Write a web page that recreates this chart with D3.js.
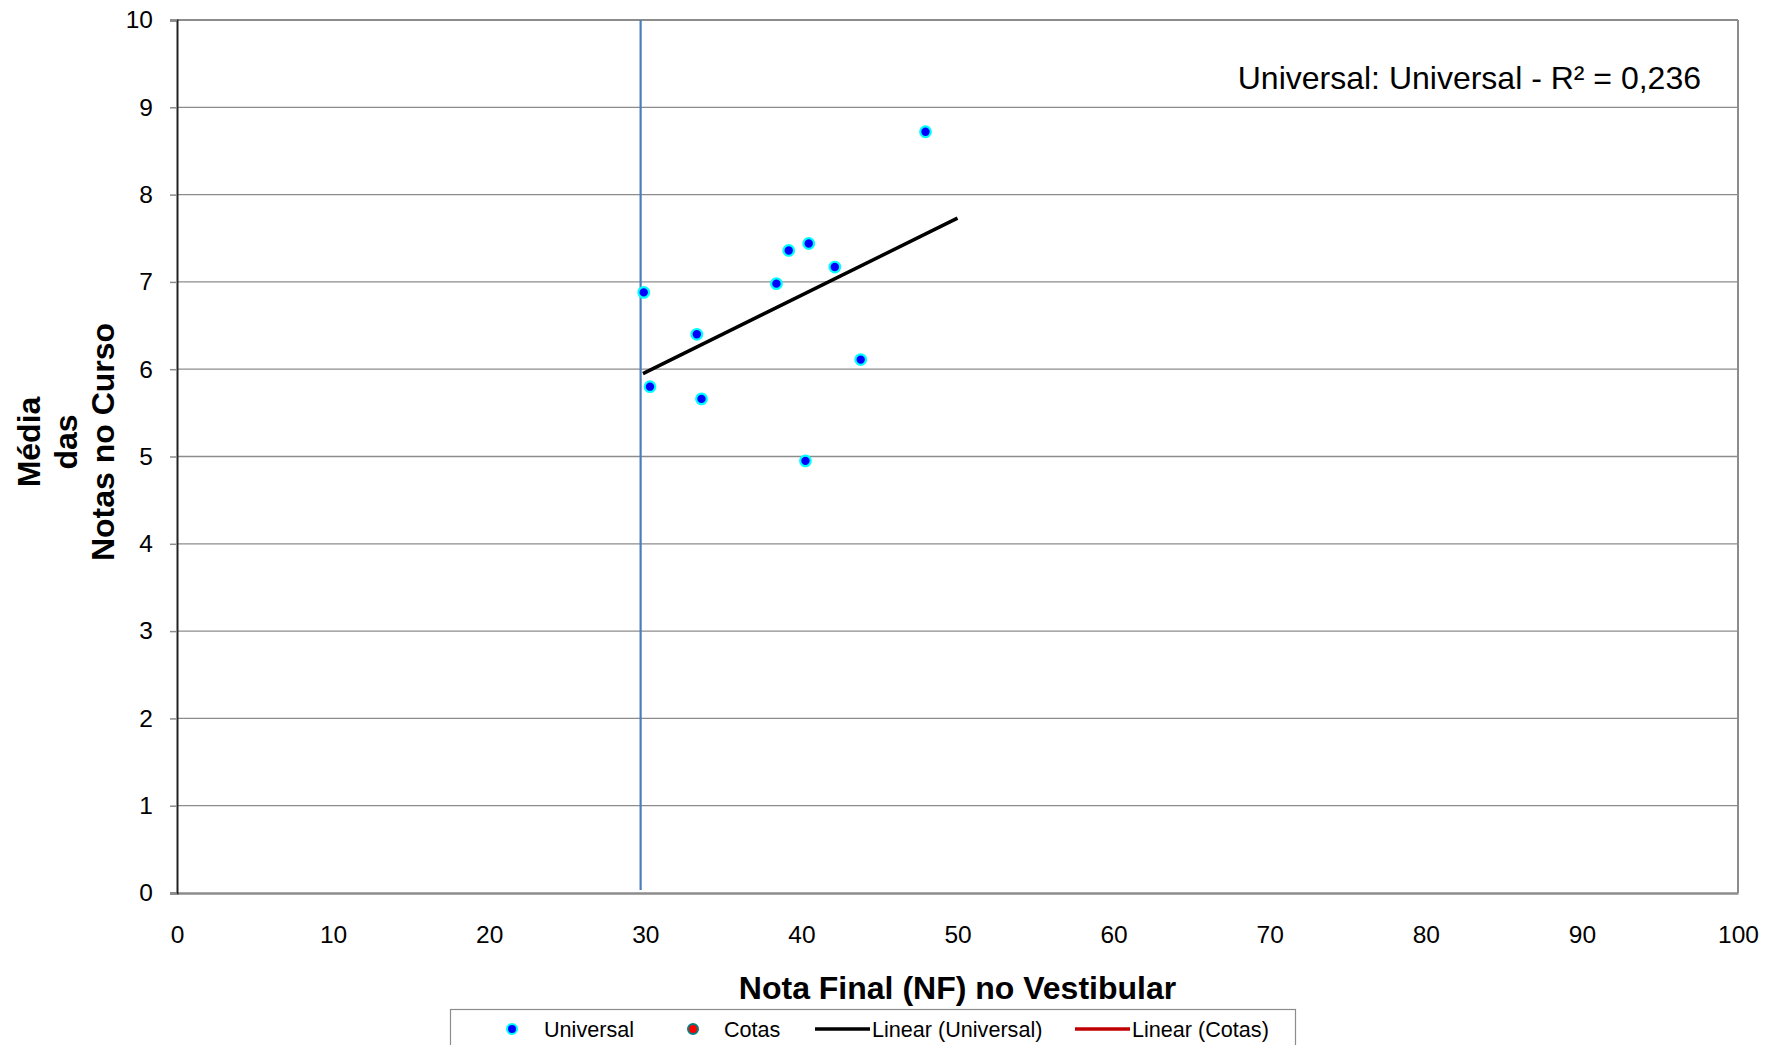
<!DOCTYPE html>
<html>
<head>
<meta charset="utf-8">
<script src="https://cdn.jsdelivr.net/npm/d3@7"></script>
<style>
  html, body { margin: 0; padding: 0; background: #fff; }
  svg { display: block; font-family: "Liberation Sans", Arial, sans-serif; }
</style>
</head>
<body>
<svg id="chart" width="1765" height="1045"></svg>
<script>
// ---- data ----
const universalX = [47.95, 39.19, 40.47, 42.14, 38.4, 29.9, 33.3, 43.8, 30.3, 33.6, 40.26];
const universalY = [8.72, 7.36, 7.44, 7.17, 6.98, 6.88, 6.40, 6.11, 5.80, 5.66, 4.95];
const cotasX = [];
const cotasY = [];
const trendUniversal = [[29.85, 5.95], [50.0, 7.73]];
const cutoffX = 29.7;
const xTicks = [0, 10, 20, 30, 40, 50, 60, 70, 80, 90, 100];
const yTicks = [0, 1, 2, 3, 4, 5, 6, 7, 8, 9, 10];
const legendItems = ["Universal", "Cotas", "Linear (Universal)", "Linear (Cotas)"];
const annotationText = "Universal: Universal - R² = 0,236";
const xTitle = "Nota Final (NF) no Vestibular";
const yTitleLines = ["Média", "das", "Notas no Curso"];

// ---- layout ----
const FONT = "'Liberation Sans', Arial, sans-serif";
const svg = d3.select("#chart");
const L = 177, R = 1738, T = 20, B = 893;
const x = d3.scaleLinear().domain([0, 100]).range([L, R]);
const y = d3.scaleLinear().domain([0, 10]).range([B, T]);

// gridlines
svg.append("g").selectAll("line").data(yTicks.filter(d => d > 0)).join("line")
  .attr("x1", L).attr("x2", R)
  .attr("y1", d => y(d)).attr("y2", d => y(d))
  .attr("stroke", "#8c8c8c").attr("stroke-width", 1.3);

// plot border (top/right)
svg.append("line").attr("x1", L).attr("x2", R).attr("y1", T).attr("y2", T)
  .attr("stroke", "#8c8c8c").attr("stroke-width", 2);
svg.append("line").attr("x1", R).attr("x2", R).attr("y1", T).attr("y2", B)
  .attr("stroke", "#8c8c8c").attr("stroke-width", 2);

// x axis (bottom)
const xAxis = d3.axisBottom(x).tickValues(xTicks).tickSize(0).tickPadding(33)
  .tickFormat(d3.format("d"));
const gx = svg.append("g").attr("transform", `translate(0,${B})`).call(xAxis);
gx.select(".domain").attr("stroke", "#8c8c8c").attr("stroke-width", 2.5);
gx.selectAll("text").attr("font-size", 24.5).attr("fill", "#000").attr("font-family", FONT);

// y axis (left)
const yAxis = d3.axisLeft(y).tickValues(yTicks).tickSize(7).tickPadding(17)
  .tickFormat(d3.format("d"));
const gy = svg.append("g").attr("transform", `translate(${L},0)`).call(yAxis);
gy.select(".domain").attr("stroke", "#222").attr("stroke-width", 2);
gy.selectAll(".tick line").attr("stroke", "#8c8c8c").attr("stroke-width", 1.5);
gy.selectAll("text").attr("font-size", 24.5).attr("fill", "#000").attr("font-family", FONT);

// cutoff vertical line
svg.append("line")
  .attr("x1", x(cutoffX)).attr("x2", x(cutoffX))
  .attr("y1", y(10)).attr("y2", y(0) - 3)
  .attr("stroke", "#4a7ebb").attr("stroke-width", 2.2);

// trendline
svg.append("path")
  .datum(trendUniversal)
  .attr("d", d3.line().x(d => x(d[0])).y(d => y(d[1])))
  .attr("stroke", "#000").attr("stroke-width", 3.5).attr("fill", "none");

// points
const pts = universalX.map((v, i) => [v, universalY[i]]);
svg.append("g").selectAll("circle").data(pts).join("circle")
  .attr("cx", d => x(d[0])).attr("cy", d => y(d[1])).attr("r", 5.3)
  .attr("fill", "#0000ff").attr("stroke", "#00ffff").attr("stroke-width", 2.2);
const cpts = cotasX.map((v, i) => [v, cotasY[i]]);
svg.append("g").selectAll("circle").data(cpts).join("circle")
  .attr("cx", d => x(d[0])).attr("cy", d => y(d[1])).attr("r", 5.3)
  .attr("fill", "#ff0000").attr("stroke", "#008080").attr("stroke-width", 2.2);

// annotation
svg.append("text").attr("x", 1701).attr("y", 89).attr("text-anchor", "end")
  .attr("font-size", 32).attr("fill", "#000").text(annotationText);

// axis titles
svg.append("text").attr("x", x(50)).attr("y", 999).attr("text-anchor", "middle")
  .attr("font-size", 32).attr("font-weight", "bold").attr("fill", "#000").text(xTitle);
const yt = svg.append("text").attr("transform", "translate(40,442) rotate(-90)")
  .attr("text-anchor", "middle").attr("font-size", 32).attr("font-weight", "bold").attr("fill", "#000");
yTitleLines.forEach((t, i) => {
  yt.append("tspan").attr("x", 0).attr("dy", i === 0 ? 0 : 37).text(t);
});

// legend
const lg = svg.append("g");
lg.append("rect").attr("x", 450.5).attr("y", 1009.5).attr("width", 845).attr("height", 60)
  .attr("fill", "#fff").attr("stroke", "#8c8c8c").attr("stroke-width", 1.2);
const ly = 1029;
const legendPos = [
  {type: "dot", fill: "#0000ff", stroke: "#00ffff", mx: 512, tx: 544},
  {type: "dot", fill: "#ff0000", stroke: "#008080", mx: 693, tx: 724},
  {type: "line", color: "#000", mx1: 815, mx2: 870, tx: 872},
  {type: "line", color: "#c00000", mx1: 1075, mx2: 1130, tx: 1132}
];
legendItems.forEach((name, i) => {
  const p = legendPos[i];
  if (p.type === "dot") {
    lg.append("circle").attr("cx", p.mx).attr("cy", ly).attr("r", 5)
      .attr("fill", p.fill).attr("stroke", p.stroke).attr("stroke-width", 2);
  } else {
    lg.append("line").attr("x1", p.mx1).attr("x2", p.mx2).attr("y1", ly).attr("y2", ly)
      .attr("stroke", p.color).attr("stroke-width", 3.5);
  }
  lg.append("text").attr("x", p.tx).attr("y", ly).attr("dy", "0.35em")
    .attr("font-size", 21.6).attr("fill", "#000").text(name);
});
</script>
</body>
</html>
